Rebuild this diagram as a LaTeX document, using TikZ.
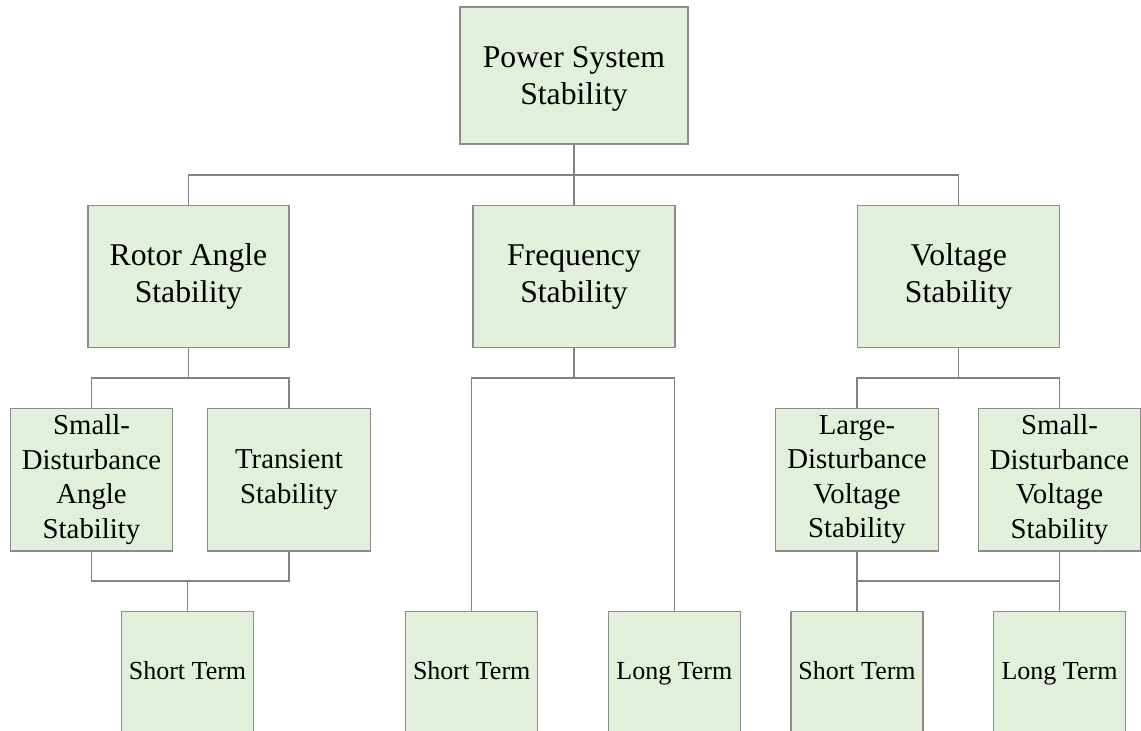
\documentclass[tikz,border=0pt]{standalone}
\usepackage{fontspec}
\setmainfont{Liberation Serif}
\definecolor{boxfill}{RGB}{226,239,218}
\definecolor{boxdraw}{RGB}{140,140,140}
\definecolor{linegray}{RGB}{130,130,130}
\tikzset{
  box/.style={draw=boxdraw, fill=boxfill, line width=1.2pt, rectangle, inner sep=0pt, align=center, text=black},
  bigbox/.style={box, font=\fontsize{31.7}{37}\selectfont},
  midbox/.style={box, minimum width=162.5pt, minimum height=142.7pt, font=\fontsize{28.8}{34.5}\selectfont},
  termbox/.style={box, minimum width=132pt, minimum height=124pt, text height=18pt, text depth=6pt, font=\fontsize{26}{30}\selectfont},
  conn/.style={draw=linegray, line width=1.3pt}
}
\begin{document}
\begin{tikzpicture}[x=1pt,y=-1pt]
\useasboundingbox (0,0) rectangle (1141,731);
\clip (0,0) rectangle (1141,731);
% top
\node[bigbox, minimum width=228pt, minimum height=137pt, text depth=0pt] (top) at (574,75.5) {Power System\\Stability};
% level 2
\node[bigbox, minimum width=201pt, minimum height=142pt] (rotor) at (188.5,276.7) {Rotor Angle\\Stability};
\node[bigbox, minimum width=202pt, minimum height=142pt] (freq) at (574,276.7) {Frequency\\Stability};
\node[bigbox, minimum width=202pt, minimum height=142pt] (volt) at (958.7,276.7) {Voltage\\Stability};
% level 3
\node[midbox] (sda) at (91.5,479.7) {Small-\\Disturbance\\Angle\\Stability};
\node[midbox] (trans) at (289,479.7) {Transient\\Stability};
\node[midbox] (ldv) at (857,479.7) {Large-\\Disturbance\\Voltage\\Stability};
\node[midbox] (sdv) at (1059.5,479.7) {Small-\\Disturbance\\Voltage\\Stability};
% level 4
\node[termbox] (st1) at (187.5,673.7) {Short Term};
\node[termbox] (st2) at (471.7,673.7) {Short Term};
\node[termbox] (lt2) at (674.3,673.7) {Long Term};
\node[termbox] (st3) at (857,673.7) {Short Term};
\node[termbox] (lt3) at (1059.5,673.7) {Long Term};
% bus coordinates
\coordinate (tbus) at (574,175);
\coordinate (rbus) at (188.5,378);
\coordinate (fbus) at (574,378);
\coordinate (vbus) at (958.7,378);
\coordinate (rbus2) at (187.5,581);
\coordinate (vbus2) at (958,581);
% connectors
\draw[conn] (top.south) -- (freq.north);
\draw[conn] (rotor.north) |- (tbus) -| (volt.north);
\draw[conn] (rotor.south) -- (rbus);
\draw[conn] (sda.north) |- (rbus) -| (trans.north);
\draw[conn] (freq.south) -- (fbus);
\draw[conn] (st2.north) |- (fbus) -| (lt2.north);
\draw[conn] (volt.south) -- (vbus);
\draw[conn] (ldv.north) |- (vbus) -| (sdv.north);
\draw[conn] (sda.south) |- (rbus2) -| (trans.south);
\draw[conn] (rbus2) -- (st1.north);
\draw[conn] (ldv.south) -- (st3.north);
\draw[conn] (sdv.south) -- (lt3.north);
\draw[conn] (ldv.south |- vbus2) -- (sdv.south |- vbus2);
\end{tikzpicture}
\end{document}
